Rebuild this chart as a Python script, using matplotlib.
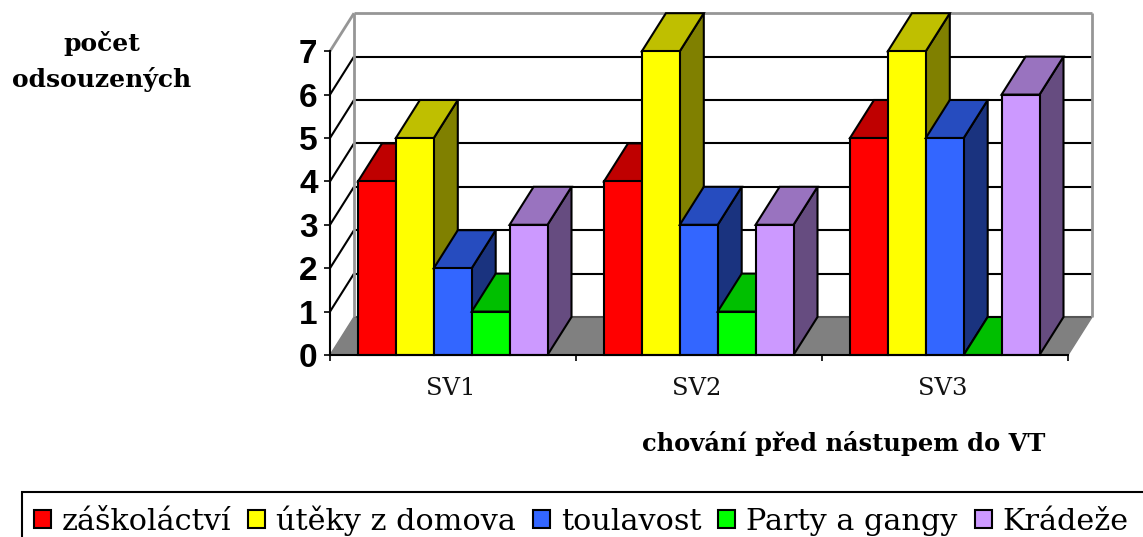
#!/usr/bin/env python3
import matplotlib

matplotlib.use("Agg")
import matplotlib.pyplot as plt
from matplotlib.patches import Patch, Polygon, Rectangle

categories = ["SV1", "SV2", "SV3"]
series_names = ["záškoláctví", "útěky z domova", "toulavost", "Party a gangy", "Krádeže"]
zaskolactvi = [4, 4, 5]
uteky = [5, 7, 7]
toulavost = [2, 3, 5]
party = [1, 1, 0]
kradeze = [3, 3, 6]
front_colors = ["#FF0000", "#FFFF00", "#3366FF", "#00FF00", "#CC99FF"]
top_colors = ["#BF0000", "#BFBF00", "#264CBF", "#00BF00", "#9973BF"]
side_colors = ["#800000", "#808000", "#1A337F", "#008000", "#664C80"]

W, H = 1143, 537
DEPTH_X = 24 / 246  # oblique offset, category units
DEPTH_Y = 38 / 43.4  # oblique offset, value units
BAR_W = 37.9 / 246
BAR_START = 28 / 246
LW = 1.5

plt.rcParams["font.family"] = ["DejaVu Serif"]
fig = plt.figure(figsize=(W / 100, H / 100), dpi=100, facecolor="white")
ax = fig.add_axes([330 / W, 1 - 355 / H, 738 / W, 303.8 / H])
ax.set_xlim(0, len(categories))
ax.set_ylim(0, 7)
ax.patch.set_visible(False)


def poly(points, color, edge="black", lw=LW, z=2):
    ax.add_patch(Polygon(points, closed=True, facecolor=color, edgecolor=edge,
                         linewidth=lw, clip_on=False, zorder=z, joinstyle="miter"))


def wall_line(x0, y0, x1, y1, color="black", lw=1.5):
    ax.plot([x0, x1], [y0, y1], color=color, lw=lw, clip_on=False, zorder=1.5,
            solid_capstyle="butt")


n = len(categories)
poly([(0, 0), (n, 0), (n + DEPTH_X, DEPTH_Y), (DEPTH_X, DEPTH_Y)], "#808080", edge="#808080", lw=1, z=1)
for v in range(1, 7):
    wall_line(DEPTH_X, v + DEPTH_Y, n + DEPTH_X, v + DEPTH_Y)
    wall_line(0, v, DEPTH_X, v + DEPTH_Y)
wall_line(DEPTH_X, DEPTH_Y, n + DEPTH_X, DEPTH_Y, color="#555555")
wall_line(0, 7, DEPTH_X, 7 + DEPTH_Y, color="#969696", lw=2)
wall_line(DEPTH_X, 7 + DEPTH_Y, n + DEPTH_X, 7 + DEPTH_Y, color="#969696", lw=2)
wall_line(DEPTH_X, DEPTH_Y, DEPTH_X, 7 + DEPTH_Y, color="#969696", lw=2)
wall_line(n + DEPTH_X, DEPTH_Y, n + DEPTH_X, 7 + DEPTH_Y, color="#969696", lw=2)

all_series = [zaskolactvi, uteky, toulavost, party, kradeze]
for c in range(n):
    for s, values in enumerate(all_series):
        v = values[c]
        x0 = c + BAR_START + s * BAR_W
        x1 = x0 + BAR_W
        poly([(x1, 0), (x1 + DEPTH_X, DEPTH_Y), (x1 + DEPTH_X, v + DEPTH_Y), (x1, v)], side_colors[s], z=2 + c + s * 0.1)
        poly([(x0, v), (x1, v), (x1 + DEPTH_X, v + DEPTH_Y), (x0 + DEPTH_X, v + DEPTH_Y)], top_colors[s], z=2 + c + s * 0.1)
        if v > 0:
            poly([(x0, 0), (x1, 0), (x1, v), (x0, v)], front_colors[s], z=2 + c + s * 0.1)

for side in ("top", "right"):
    ax.spines[side].set_visible(False)
for side in ("left", "bottom"):
    ax.spines[side].set_linewidth(1.5)
    ax.spines[side].set_zorder(10)
ax.set_yticks(range(8))
ax.set_yticklabels([str(v) for v in range(8)], family="Liberation Sans", fontweight="bold", fontsize=24)
ax.tick_params(axis="y", length=4.5, width=1.2, pad=4.5)
ax.set_xticks(range(n + 1))
ax.set_xticklabels([])
ax.tick_params(axis="x", which="major", length=4.5, width=1.2)
ax.set_xticks([c + 0.49 for c in range(n)], minor=True)
ax.set_xticklabels(categories, minor=True, fontsize=17.5, color="#111111")
ax.tick_params(axis="x", which="minor", length=0, pad=16)

fig.text(102 / W, 1 - 62 / H, "počet\nodsouzených", ha="center", va="center",
         fontweight="bold", fontsize=18, linespacing=1.55)
fig.text(844 / W, 1 - 443 / H, "chování před nástupem do VT", ha="center", va="center",
         fontweight="bold", fontsize=17.4)

fig.add_artist(Rectangle((22 / W, -0.05), 1.2, 1 - 492 / H + 0.05, transform=fig.transFigure,
                         facecolor="none", edgecolor="black", linewidth=1.5))
handles = [Patch(facecolor=col, edgecolor="black", linewidth=1.5, label=name)
           for col, name in zip(front_colors, series_names)]
fig.legend(handles=handles, ncol=5, frameon=False, loc="center left",
           bbox_to_anchor=(34 / W, 1 - 520.5 / H), borderaxespad=0, borderpad=0,
           fontsize=21.8, handlelength=0.56, handleheight=0.56, handletextpad=0.36,
           columnspacing=0.56)

fig.savefig("out.png", dpi=100, facecolor="white")
